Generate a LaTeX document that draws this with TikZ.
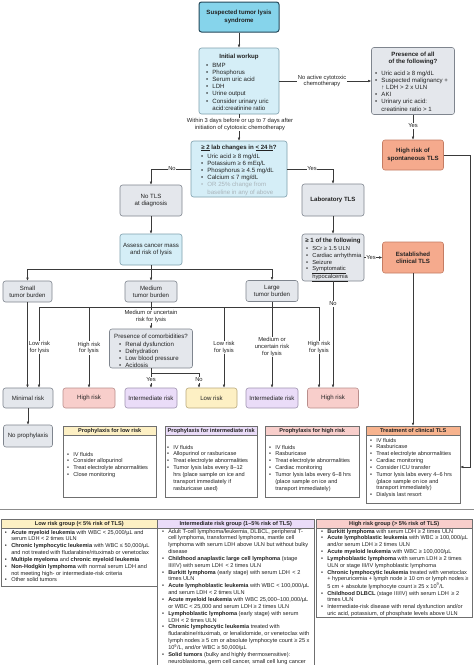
\documentclass[tikz,border=0pt]{standalone}
\usepackage{fontspec}
\setmainfont{Liberation Sans}
\usetikzlibrary{arrows.meta}
\definecolor{txtc}{HTML}{222222}
\definecolor{linec}{HTML}{3A3A3A}
\definecolor{cyanF}{HTML}{86D4EB}
\definecolor{cyanD}{HTML}{24485A}
\definecolor{blueF}{HTML}{D5EEF7}
\definecolor{blueD}{HTML}{7E9FAD}
\definecolor{grayF}{HTML}{E4E7EC}
\definecolor{grayD}{HTML}{7F858E}
\definecolor{salF}{HTML}{F5AA8D}
\definecolor{salD}{HTML}{C47C63}
\definecolor{pinkF}{HTML}{F8CECB}
\definecolor{pinkD}{HTML}{B98E8C}
\definecolor{lavF}{HTML}{EADCF8}
\definecolor{lavD}{HTML}{9F93B0}
\definecolor{yelF}{HTML}{FDF0C4}
\definecolor{yelD}{HTML}{B9A97C}
\definecolor{orgF}{HTML}{F7B38E}
\definecolor{frameD}{HTML}{6F6F6F}
\definecolor{ltxt}{HTML}{A9B4BA}
\newcommand\fA{\fontsize{6.1}{7.2}\selectfont}
\newcommand\fS{\fontsize{5.8}{6.8}\selectfont}
\newcommand\fT{\fontsize{5.6}{6.85}\selectfont}
\newcommand\blist[1]{\begin{tabular}[t]{@{}l@{\hspace{4.3pt}}l@{}}#1\end{tabular}}
\newcommand\bu{\textbullet}
\begin{document}
\begin{tikzpicture}[x=1pt,y=-1pt,
  bx/.style={draw, rounded corners=2.5pt, line width=0.6pt, align=center, inner sep=1pt, text=txtc, font=\fA},
  cyanbox/.style={bx, fill=cyanF, draw=cyanD, line width=1pt},
  bluebox/.style={bx, fill=blueF, draw=blueD},
  graybox/.style={bx, fill=grayF, draw=grayD},
  salbox/.style={bx, fill=salF, draw=salD},
  pinkbox/.style={bx, fill=pinkF, draw=pinkD},
  lavbox/.style={bx, fill=lavF, draw=lavD},
  yelbox/.style={bx, fill=yelF, draw=yelD},
  txt/.style={inner sep=0pt, outer sep=0pt, text=txtc, font=\fA},
  ttl/.style={inner sep=0pt, outer sep=0pt, text=txtc, font=\fA\bfseries, align=center},
  stxt/.style={txt, font=\fS},
  ttxt/.style={txt, font=\fT},
  lab/.style={fill=white, inner sep=0.6pt, text=txtc, font=\fS, align=center},
  arr/.style={draw=linec, line width=0.5pt, -{Latex[length=3pt,width=2.6pt]}},
  ln/.style={draw=linec, line width=0.5pt},
  pbox/.style={draw=frameD, line width=0.5pt, fill=white, inner sep=0pt},
  phead/.style={draw=frameD, line width=0.5pt, inner sep=0pt, minimum height=9pt, anchor=north west, font=\fT\bfseries, text=txtc},
]
\fill[white] (0,0) rectangle (474,665);
\useasboundingbox (0,0) rectangle (474,665);

% ---------- boxes ----------
\node[cyanbox, minimum width=80pt, minimum height=30pt, font=\fA\bfseries] (top) at (239,17) {Suspected tumor lysis\\syndrome};
\node[bluebox, minimum width=80pt, minimum height=66pt] (workup) at (239,81) {};
\node[bluebox, minimum width=96pt, minimum height=56pt] (labchg) at (239,169) {};
\node[graybox, minimum width=83pt, minimum height=67pt] (presence) at (413,81) {};
\node[salbox, minimum width=61pt, minimum height=30pt, font=\fA\bfseries] (spont) at (413,155) {High risk of\\spontaneous TLS};
\node[graybox, minimum width=62pt, minimum height=31pt] (notls) at (151,200.5) {No TLS\\at diagnosis};
\node[bluebox, minimum width=62pt, minimum height=31pt] (assess) at (151,249.5) {Assess cancer mass\\and risk of lysis};
\node[graybox, minimum width=62pt, minimum height=32pt, font=\fA\bfseries] (labtls) at (333,200) {Laboratory TLS};
\node[graybox, minimum width=62pt, minimum height=47pt] (ge1) at (333,257.5) {};
\node[salbox, minimum width=61pt, minimum height=31pt, font=\fA\bfseries] (estab) at (413,257.5) {Established\\clinical TLS};
\node[graybox, minimum width=49pt, minimum height=21pt] (small) at (27.5,291.5) {Small\\tumor burden};
\node[graybox, minimum width=52pt, minimum height=21pt] (medium) at (151,291.5) {Medium\\tumor burden};
\node[graybox, minimum width=52pt, minimum height=21pt] (large) at (272,291) {Large\\tumor burden};
\node[graybox, minimum width=83pt, minimum height=39pt] (comorb) at (151,348.5) {};

\node[graybox, minimum width=50pt, minimum height=20pt] (minimal) at (28,398) {Minimal risk};
\node[pinkbox, minimum width=52pt, minimum height=20pt] (high1) at (89,398) {High risk};
\node[lavbox, minimum width=52pt, minimum height=20pt] (inter1) at (151,398) {Intermediate risk};
\node[yelbox, minimum width=51pt, minimum height=20pt] (low) at (211.5,398) {Low risk};
\node[lavbox, minimum width=52pt, minimum height=20pt] (inter2) at (272,398) {Intermediate risk};
\node[pinkbox, minimum width=51pt, minimum height=20pt] (high2) at (333,398) {High risk};
\node[graybox, minimum width=49pt, minimum height=22pt] (noproph) at (28,436) {No prophylaxis};

% ---------- box texts ----------
\node[ttl, anchor=base] (workupT) at (239,58) {Initial workup};
\node[txt, anchor=base west] (workupL) at (206,67) {\blist{\bu & BMP\\ \bu & Phosphorus\\ \bu & Serum uric acid\\ \bu & LDH\\ \bu & Urine output\\ \bu & Consider urinary uric\\ & acid:creatinine ratio}};

\node[ttl, anchor=base] (labchgT) at (239,149) {\underline{≥ 2} lab changes in \underline{< 24 h}?};
\node[txt, anchor=base west] (labchgL) at (201,158) {\blist{\bu & Uric acid ≥ 8 mg/dL\\ \bu & Potassium ≥ 6 mEq/L\\ \bu & Phosphorus ≥ 4.5 mg/dL\\ \bu & Calcium ≤ 7 mg/dL\\ \textcolor{ltxt}{\bu} & \textcolor{ltxt}{OR 25\% change from}\\ & \textcolor{ltxt}{baseline in any of above}}};

\node[ttl] (presT) at (413,58.5) {Presence of all\\of the following?};
\node[txt, anchor=base west] (presL) at (375,75) {\blist{\bu & Uric acid ≥ 8 mg/dL\\ \bu & Suspected malignancy +\\ & ↑ LDH > 2 x ULN\\ \bu & AKI\\ \bu & Urinary uric acid:\\ & creatinine ratio > 1}};

\node[ttl, anchor=base] (ge1T) at (333,242.5) {≥ 1 of the following};
\node[stxt, anchor=base west] (ge1L) at (306,250.5) {\blist{\bu & SCr ≥ 1.5 ULN\\ \bu & Cardiac arrhythmia\\ \bu & Seizure\\ \bu & \underline{Symptomatic}\\ & \underline{hypocalcemia}}};

\node[txt, anchor=base] (comorbT) at (151,338) {Presence of comorbidities?};
\node[txt, anchor=base west] (comorbL) at (119,346) {\blist{\bu & Renal dysfunction\\ \bu & Dehydration\\ \bu & Low blood pressure\\ \bu & Acidosis}};

% ---------- prophylaxis boxes ----------
\node[pbox, minimum width=93pt, minimum height=71pt, anchor=north west] (plow) at (63,426) {};
\node[phead, fill=yelF, minimum width=93pt] (plowH) at (63,426) {Prophylaxis for low risk};
\node[ttxt, anchor=base west] (plowL) at (67,456) {\blist{\bu & IV fluids\\ \bu & Consider allopurinol\\ \bu & Treat electrolyte abnormalities\\ \bu & Close monitoring}};

\node[pbox, minimum width=92pt, minimum height=71pt, anchor=north west] (pint) at (165,426) {};
\node[phead, fill=lavF, minimum width=92pt] (pintH) at (165,426) {Prophylaxis for intermediate risk};
\node[ttxt, anchor=base west] (pintL) at (167,449) {\blist{\bu & IV fluids\\ \bu & Allopurinol or rasburicase\\ \bu & Treat electrolyte abnormalities\\ \bu & Tumor lysis labs every 8–12\\ & hrs (place sample on ice and\\ & transport immediately if\\ & rasburicase used)}};

\node[pbox, minimum width=94pt, minimum height=71pt, anchor=north west] (phigh) at (265,426) {};
\node[phead, fill=pinkF, minimum width=94pt] (phighH) at (265,426) {Prophylaxis for high risk};
\node[ttxt, anchor=base west] (phighL) at (269,449) {\blist{\bu & IV fluids\\ \bu & Rasburicase\\ \bu & Treat electrolyte abnormalities\\ \bu & Cardiac monitoring\\ \bu & Tumor lysis labs every 6–8 hrs\\ & (place sample on ice and\\ & transport immediately)}};

\node[pbox, minimum width=94pt, minimum height=77pt] (treat) at (413,464.5) {};
\node[phead, fill=orgF, minimum width=94pt] (treatH) at (366,426) {Treatment of clinical TLS};
\node[ttxt, anchor=base west] (treatL) at (370,442) {\blist{\bu & IV fluids\\ \bu & Rasburicase\\ \bu & Treat electrolyte abnormalities\\ \bu & Cardiac monitoring\\ \bu & Consider ICU transfer\\ \bu & Tumor lysis labs every 4–6 hrs\\ & (place sample on ice and\\ & transport immediately)\\ \bu & Dialysis last resort}};

% ---------- connectors ----------
\draw[arr] (top.south) -- (workup.north);
\draw[arr] (workup.south) -- (labchg.north);
\draw[arr] (workup.east) -- (presence.west);
\draw[arr] (presence.south) -- (spont.north);
\coordinate (rc) at (470,155);
\draw[arr] (spont.east) -- (rc) |- ([yshift=-2.5pt]treat.east);
\draw[arr] (labchg.west) -| (notls.north);
\draw[arr] (labchg.east) -| (labtls.north);
\draw[arr] (notls.south) -- (assess.north);
\draw[arr] (labtls.south) -- (ge1.north);
\draw[arr] (ge1.east) -- (estab.west);
\draw[arr] (estab.south) -- (treat.north);
\draw[arr] (ge1.south) -- (high2.north);

\coordinate (ab) at (151,269);
\draw[ln] (assess.south) -- (ab);
\draw[arr] (ab) -| (small.north);
\draw[arr] (ab) -| (large.north);
\draw[arr] (ab) -- (medium.north);

\coordinate (mb) at (151,307);
\coordinate (m1) at (39,307);
\coordinate (m2) at (89,307);
\coordinate (m4) at (224,307);
\draw[ln] (medium.south) -- (mb);
\draw[arr] (mb) -- (m1) -- (m1 |- minimal.north);
\draw[arr] (m2) -- (m2 |- high1.north);
\draw[arr] (mb) -- (comorb.north);
\draw[arr] (mb) -- (m4) -- (m4 |- low.north);
\draw[arr] (small.south) -- (small.south |- minimal.north);

\coordinate (lb) at (272,307);
\coordinate (l3) at (319,307);
\draw[ln] (large.south) -- (lb) -- (m4);
\draw[arr] (lb) -- (inter2.north);
\draw[arr] (lb) -- (l3) -- (l3 |- high2.north);

\coordinate (cb) at (151,373);
\coordinate (cn) at (199,373);
\draw[ln] (comorb.south) -- (cb);
\draw[arr] (cb) -- (inter1.north);
\draw[arr] (cb) -- (cn) -- (cn |- low.north);
\draw[arr] (minimal.south) -- (noproph.north);

% ---------- labels ----------
\node[lab] (lwithin) at (240,124.5) {Within 3 days before or up to 7 days after\\initiation of cytotoxic chemotherapy};
\node[lab] (lnoact) at (322,81) {No active cytotoxic\\chemotherapy};
\node[lab] (lyes1) at (413,126) {Yes};
\node[lab] (lno1) at (172,169) {No};
\node[lab] (lyes2) at (312,169) {Yes};
\node[lab] (lyes3) at (371,257.5) {Yes};
\node[lab] (lno2) at (333,304) {No};
\node[lab] (llow1) at (39.5,347.5) {Low risk\\for lysis};
\node[lab] (lhigh1) at (89,348) {High risk\\for lysis};
\node[lab] (lmed1) at (151,316.5) {Medium or uncertain\\risk for lysis};
\node[lab] (llow2) at (224,347.5) {Low risk\\for lysis};
\node[lab] (lmed2) at (272,347) {Medium or\\uncertain risk\\for lysis};
\node[lab] (lhigh2) at (319,347.5) {High risk\\for lysis};
\node[lab] (lyes4) at (151,380) {Yes};
\node[lab] (lno3) at (199,380) {No};

% ---------- bottom tables ----------
\draw[draw=frameD!80, line width=0.8pt] (0,509) -- (474,509);

\node[pbox, minimum width=156pt, minimum height=67pt, anchor=north west] (lowg) at (1,519) {};
\node[phead, fill=yelF, minimum width=156pt] (lowgH) at (1,519) {Low risk group (< 5\% risk of TLS)};
\node[ttxt, anchor=base west] (lowgL) at (5,534) {\blist{\bu & \textbf{Acute myeloid leukemia} with WBC < 25,000/µL and\\ & serum LDH < 2 times ULN\\ \bu & \textbf{Chronic lymphocytic leukemia} with WBC ≤ 50,000/µL\\ & and not treated with fludarabine/rituximab or venetoclax\\ \bu & \textbf{Multiple myeloma} and \textbf{chronic myeloid leukemia}\\ \bu & \textbf{Non-Hodgkin lymphoma} with normal serum LDH and\\ & not meeting high- or intermediate-risk criteria\\ \bu & Other solid tumors}};

\node[pbox, minimum width=157pt, minimum height=152pt, anchor=north west] (intg) at (157,519) {};
\node[phead, fill=lavF, minimum width=157pt] (intgH) at (157,519) {Intermediate risk group (1–5\% risk of TLS)};
\node[ttxt, anchor=base west] (intgL) at (162,533) {\blist{\bu & Adult T-cell lymphoma/leukemia, DLBCL, peripheral T-\\ & cell lymphoma, transformed lymphoma, mantle cell\\ & lymphoma with serum LDH above ULN but without bulky\\ & disease\\ \bu & \textbf{Childhood anaplastic large cell lymphoma} (stage\\ & III/IV) with serum LDH \,< 2 times ULN\\ \bu & \textbf{Burkitt lymphoma} (early stage) with serum LDH \,< 2\\ & times ULN\\ \bu & \textbf{Acute lymphoblastic leukemia} with WBC < 100,000/µL\\ & and serum LDH < 2 times ULN\\ \bu & \textbf{Acute myeloid leukemia} with WBC 25,000–100,000/µL\\ & or WBC < 25,000 and serum LDH ≥ 2 times ULN\\ \bu & \textbf{Lymphoblastic lymphoma} (early stage) with serum\\ & LDH < 2 times ULN\\ \bu & \textbf{Chronic lymphocytic leukemia} treated with\\ & fludarabine/rituximab, or lenalidomide, or venetoclax with\\ & lymph nodes ≥ 5 cm or absolute lymphocyte count ≥ 25 x\\ & 10\textsuperscript{9}/L, and/or WBC ≥ 50,000/µL\\ \bu & \textbf{Solid tumors} (bulky and highly thermosensitive):\\ & neuroblastoma, germ cell cancer, small cell lung cancer}};

\node[pbox, minimum width=156pt, minimum height=98pt, anchor=north west] (highg) at (316,519) {};
\node[phead, fill=pinkF, minimum width=156pt] (highgH) at (316,519) {High risk group (> 5\% risk of TLS)};
\node[ttxt, anchor=base west] (highgL) at (321,533) {\blist{\bu & \textbf{Burkitt lymphoma} with serum LDH ≥ 2 times ULN\\ \bu & \textbf{Acute lymphoblastic leukemia} with WBC ≥ 100,000/µL\\ & and/or serum LDH ≥ 2 times ULN\\ \bu & \textbf{Acute myeloid leukemia} with WBC ≥ 100,000/µL\\ \bu & \textbf{Lymphoblastic lymphoma} with serum LDH ≥ 2 times\\ & ULN or stage III/IV lymphoblastic lymphoma\\ \bu & \textbf{Chronic lymphocytic leukemia} treated with venetoclax\\ & + hyperuricemia + lymph node ≥ 10 cm or lymph nodes ≥\\ & 5 cm + absolute lymphocyte count ≥ 25 x 10\textsuperscript{9}/L\\ \bu & \textbf{Childhood DLBCL} (stage III/IV) with serum LDH \,≥ 2\\ & times ULN\\ \bu & Intermediate-risk disease with renal dysfunction and/or\\ & uric acid, potassium, of phosphate levels above ULN}};
\end{tikzpicture}
\end{document}
